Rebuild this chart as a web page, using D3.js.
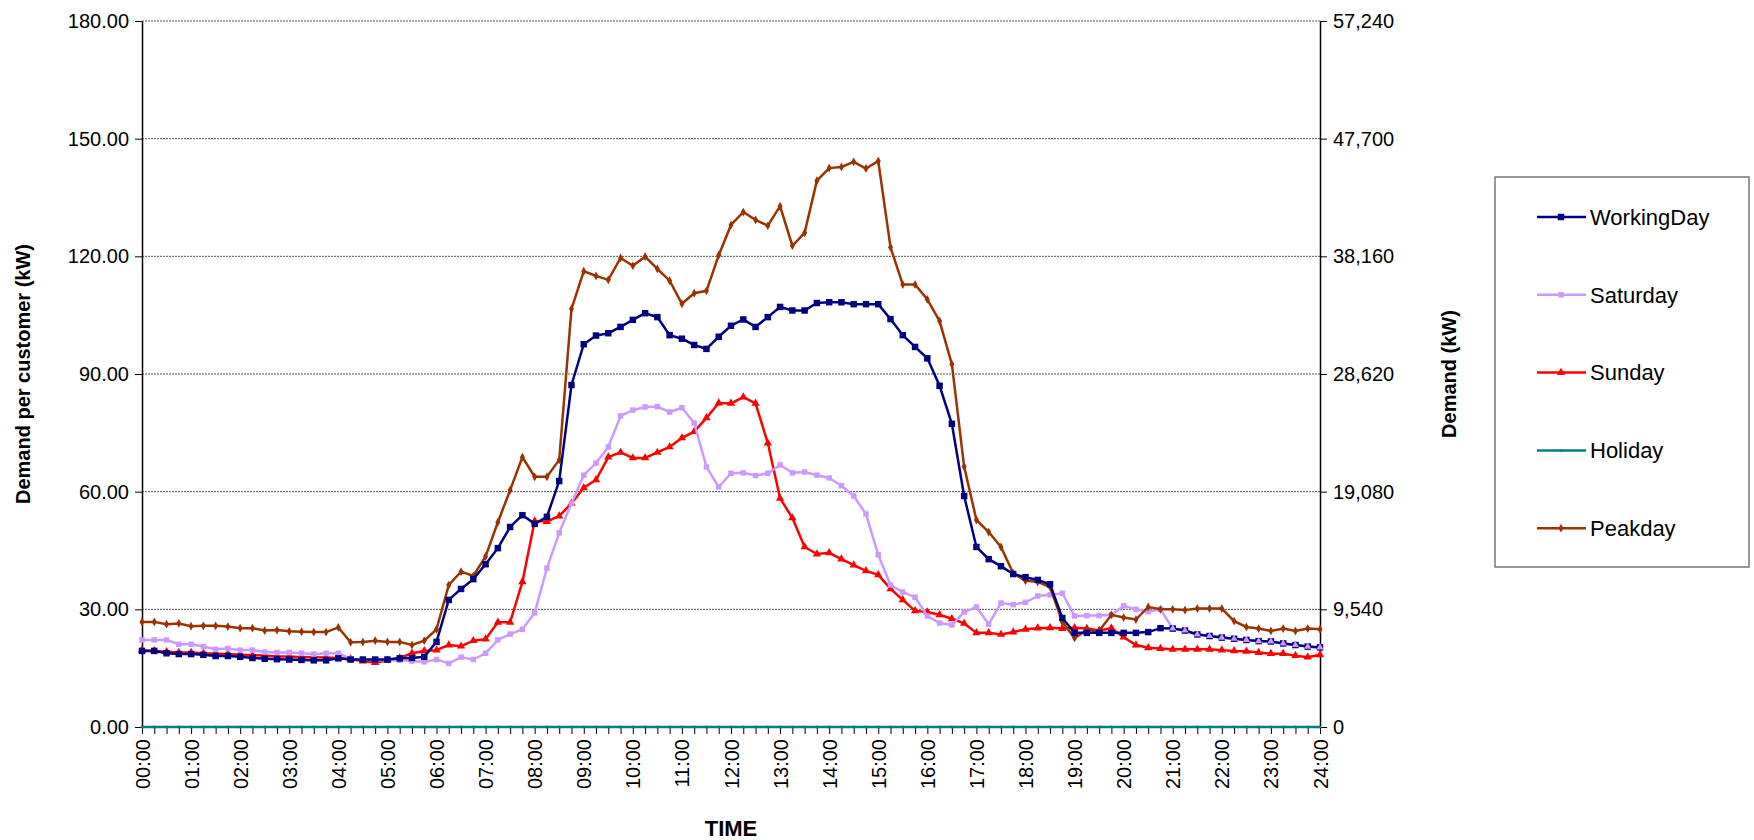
<!DOCTYPE html>
<html>
<head>
<meta charset="utf-8">
<script src="https://cdn.jsdelivr.net/npm/d3@7"></script>
<style>
  body { margin: 0; background: #fff; }
  svg text { font-family: Arial, "Liberation Sans", sans-serif; }
</style>
</head>
<body>
<div id="chart"></div>
<script>
// 15-minute steps, 00:00 .. 24:00 (97 points)
const seriesNames = ['WorkingDay', 'Saturday', 'Sunday', 'Holiday', 'Peakday'];
const hourLabels = d3.range(25).map(h => (h < 10 ? '0' : '') + h + ':00');
const leftTicks = [0, 30, 60, 90, 120, 150, 180];
const rightTicks = [0, 9540, 19080, 28620, 38160, 47700, 57240];

const workingDay = [19.4,19.4,18.8,18.6,18.6,18.4,18.1,18.1,17.9,17.6,17.4,17.3,17.2,17.1,17.0,17.0,17.5,17.2,17.2,
  17.2,17.2,17.5,17.6,17.9,21.7,
  32.4,35.2,37.7,41.5,45.6,51,54,51.8,53.6,62.7,87.2,97.6,99.8,100.4,102,103.8,
  105.5,104.5,99.9,99,97.4,96.4,99.5,102.3,103.9,102,104.5,107.1,106.2,106.2,108.1,108.3,108.3,107.8,107.8,107.8,
  104,99.9,96.9,94,87,77.3,58.9,45.9,42.8,41,39,38.2,37.5,36.4,27.8,
  24,24,24,24,24,24,24.2,25.2,25.1,24.6,23.6,23.2,22.8,22.5,22.2,21.9,21.8,21.3,20.9,20.5,20.3];
const saturday = [22.2,22.2,22.2,21.1,21.1,20.5,19.8,20.0,19.6,19.6,19.1,19.0,19.0,18.8,18.6,18.8,18.8,
  17.4,17.2,17.0,17,17,16.8,16.6,17.2,
  16.2,17.8,17.2,18.8,22.2,23.7,24.9,29.1,
  40.5,49.5,57,64.2,67.3,71.4,79.3,80.8,
  81.6,81.7,80.3,81.4,77.5,66.3,61.2,64.7,64.8,64.1,64.7,66.8,64.8,65,64.2,63.5,61.5,58.9,54.3,43.9,
  36.2,34.4,33.1,28.3,26.5,26.0,29.3,30.6,26.2,31.6,31.2,31.8,33.4,33.7,34.1,28.3,
  28.4,28.4,28.6,30.9,30.0,29.4,30.0,
  25.1,24.6,23.6,23.2,22.8,22.5,22.2,21.9,21.8,21.3,20.9,20.5,20.3];
const sunday = [19.6,19.4,19.2,19.0,19.0,18.8,18.7,18.6,18.4,18.3,18.2,18.0,18.0,17.8,17.8,17.7,17.6,17.3,16.8,
  16.4,17.0,17.6,18.8,19.4,19.6,20.9,20.6,22,22.4,26.7,26.7,37,
  52.5,52.4,53.8,57,61,63,68.8,70,68.6,68.6,70,
  71.4,73.7,75.3,78.8,82.6,82.5,84.1,82.5,72.4,58.3,53.3,45.9,44.1,44.4,42.8,41.3,39.8,38.8,
  35.2,32.4,29.6,29.3,28.6,27.6,26.4,24.0,24.0,23.6,24.2,24.9,25.2,25.3,25.1,25.3,25.1,24.6,25.2,
  22.9,20.9,20.2,20,19.8,19.8,19.8,19.8,19.6,19.4,19.3,19.0,18.7,18.7,18.2,17.8,18.4];
const holiday = d3.range(97).map(() => 0);
const peakday = [26.8,26.8,26.2,26.4,25.7,25.8,25.8,25.6,25.2,25.2,24.6,24.7,24.4,24.3,24.2,24.2,25.4,
  21.6,21.7,22,21.7,21.7,20.9,22,24.9,
  36.2,39.6,38.5,43.5,52.2,60.4,68.8,63.8,63.8,68.1,106.6,116.2,115,114,119.6,117.6,119.9,
  116.8,113.8,107.9,110.6,111.2,120.3,128,131.3,129.3,127.8,132.8,122.7,126,139.3,142.5,142.8,144.1,142.4,144.3,
  122.3,112.8,112.8,109,103.5,92.5,66.4,52.8,49.7,45.9,39.2,37.3,37,35.7,
  26.8,22.7,24.7,24.5,28.6,27.9,27.4,30.6,30,30,29.8,30.2,30.2,30.2,27,25.5,25.1,24.5,25.1,24.5,25.1,24.9];

const W = 1754, H = 840;
const m = { left: 142, right: 1320, top: 21, bottom: 727 };

const svg = d3.select('#chart').append('svg').attr('width', W).attr('height', H);

const x = d3.scaleLinear().domain([0, 96]).range([m.left, m.right]);
const y = d3.scaleLinear().domain([0, 180]).range([m.bottom, m.top]);
const y2 = d3.scaleLinear().domain([0, 57240]).range([m.bottom, m.top]);

// grid
svg.append('g').selectAll('line').data(leftTicks.slice(1)).enter().append('line')
  .attr('x1', m.left).attr('x2', m.right)
  .attr('y1', d => y(d)).attr('y2', d => y(d))
  .attr('stroke', '#555').attr('stroke-width', 1).attr('stroke-dasharray', '2,1');

// left axis
const fmt2 = d3.format('.2f');
const gl = svg.append('g').attr('transform', `translate(${m.left},0)`)
  .call(d3.axisLeft(y).tickValues(leftTicks).tickFormat(fmt2).tickSize(7).tickSizeOuter(0));
gl.selectAll('text').attr('font-size', 20).attr('fill', '#000').attr('dx', -3);

// right axis
const gr = svg.append('g').attr('transform', `translate(${m.right},0)`)
  .call(d3.axisRight(y2).tickValues(rightTicks).tickFormat(d3.format(',')).tickSize(7).tickSizeOuter(0));
gr.selectAll('text').attr('font-size', 20).attr('fill', '#000').attr('dx', 3);

// bottom axis: minor ticks every 15 min, labels each hour
const gb = svg.append('g').attr('transform', `translate(0,${m.bottom})`)
  .call(d3.axisBottom(x).tickValues(d3.range(97)).tickFormat('').tickSize(7).tickSizeOuter(0));
const gbl = svg.append('g').attr('transform', `translate(0,${m.bottom})`)
  .call(d3.axisBottom(x).tickValues(d3.range(0, 97, 4)).tickFormat(i => hourLabels[i / 4]).tickSize(0));
gbl.select('.domain').remove();
gbl.selectAll('text').attr('font-size', 20).attr('fill', '#000')
  .attr('text-anchor', 'end').attr('transform', 'rotate(-90)')
  .attr('x', -12).attr('y', 0).attr('dy', '0.35em');
[gl, gr, gb].forEach(g => g.selectAll('.domain, line').attr('stroke', '#000'));
gl.select('.domain').attr('stroke-width', 1.5);
gr.select('.domain').attr('stroke-width', 1.5);

// titles
svg.append('text').attr('transform', `translate(30,${(m.top + m.bottom) / 2}) rotate(-90)`)
  .attr('text-anchor', 'middle').attr('font-size', 20).attr('font-weight', 'bold').text('Demand per customer (kW)');
svg.append('text').attr('transform', `translate(1456,${(m.top + m.bottom) / 2}) rotate(-90)`)
  .attr('text-anchor', 'middle').attr('font-size', 20).attr('font-weight', 'bold').text('Demand (kW)');
svg.append('text').attr('x', (m.left + m.right) / 2).attr('y', 836)
  .attr('text-anchor', 'middle').attr('font-size', 22).attr('font-weight', 'bold').text('TIME');

// series
const colors = ['#000080', '#CC99FF', '#FF0000', '#008080', '#993300'];
const values = [workingDay, saturday, sunday, holiday, peakday];
const symbols = [
  d3.symbol().type(d3.symbolSquare).size(42),
  d3.symbol().type(d3.symbolSquare).size(30),
  d3.symbol().type(d3.symbolTriangle).size(30),
  d3.symbol().type(d3.symbolSquare).size(6),
  d3.symbol().type(d3.symbolDiamond).size(22)
];
const line = d3.line().x((d, i) => x(i)).y(d => y(d));
const order = [3, 2, 1, 4, 0];
order.forEach(k => {
  const g = svg.append('g');
  g.append('path').datum(values[k]).attr('d', line)
    .attr('fill', 'none').attr('stroke', colors[k]).attr('stroke-width', 2.5);
  g.selectAll('path.pt').data(values[k]).enter().append('path').attr('class', 'pt')
    .attr('transform', (d, i) => `translate(${x(i)},${y(d)})`)
    .attr('d', symbols[k]).attr('fill', colors[k]);
});
// saturday markers drawn over working day where they coincide (late evening)
svg.append('g').selectAll('path').data(saturday).enter().append('path')
  .filter((d, i) => i >= 84)
  .attr('transform', (d, i) => `translate(${x(i + 84)},${y(d)})`)
  .attr('d', d3.symbol().type(d3.symbolTriangle).size(22)).attr('fill', '#CC99FF');

// legend
const lg = svg.append('g');
lg.append('rect').attr('x', 1495).attr('y', 177).attr('width', 254).attr('height', 390)
  .attr('fill', '#fff').attr('stroke', '#777').attr('stroke-width', 1.5);
seriesNames.forEach((name, k) => {
  const ly = 217 + k * 77.8;
  lg.append('line').attr('x1', 1537).attr('x2', 1586).attr('y1', ly).attr('y2', ly)
    .attr('stroke', colors[k]).attr('stroke-width', 2.5);
  lg.append('path').attr('transform', `translate(1561,${ly})`).attr('d', symbols[k]).attr('fill', colors[k]);
  lg.append('text').attr('x', 1590).attr('y', ly).attr('dy', '0.35em')
    .attr('font-size', 22).text(name);
});
</script>
</body>
</html>
